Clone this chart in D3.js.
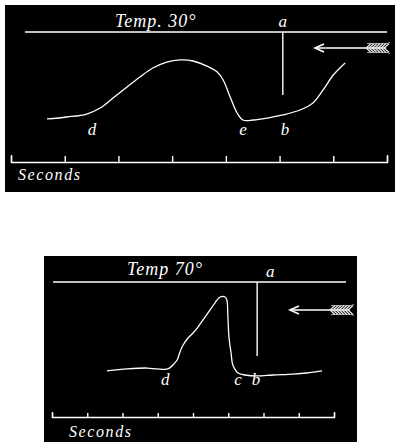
<!DOCTYPE html>
<html>
<head>
<meta charset="utf-8">
<script src="https://cdnjs.cloudflare.com/ajax/libs/d3/7.8.5/d3.min.js"></script>
<style>
  html, body { margin: 0; padding: 0; background: #fff; }
  svg { display: block; }
  text { font-family: "Liberation Serif", "DejaVu Serif", serif; font-style: italic; fill: #fff; }
</style>
</head>
<body>
<svg id="chart" width="400" height="448"></svg>
<script>
// ---------- Panel 1 : Temp. 30° ----------
const title1 = "Temp. 30°";
const seconds1 = [0.67, 1.04, 1.41, 1.66, 1.90, 2.16, 2.40, 2.64, 2.90, 3.15, 3.39, 3.65, 3.84, 3.95, 4.08, 4.21, 4.32, 4.51, 4.77, 5.06, 5.38, 5.62, 5.81, 6.00, 6.22];
const values1  = [3.31, 3.46, 3.69, 4.15, 4.92, 5.77, 6.54, 7.23, 7.69, 7.85, 7.77, 7.38, 6.92, 6.31, 5.00, 3.77, 3.23, 3.23, 3.38, 3.62, 4.00, 4.54, 5.54, 6.69, 7.62];
const ticks1 = [0, 1, 2, 3, 4, 5, 6, 7];
const pointLabels1 = ["d", "e", "b"];
const pointLabelSeconds1 = [1.51, 4.32, 5.10];
const markerA1 = { t: 5.06, bottom: 5.15 };      // vertical stimulus line "a"
const baseline1 = { from: 0.26, to: 7.0 };       // upper horizontal line
const arrow1 = { tip: 5.66, tail: 7.02, level: 8.77 };

// ---------- Panel 2 : Temp 70° ----------
const title2 = "Temp 70°";
const seconds2 = [1.56, 2.13, 2.70, 2.98, 3.29, 3.43, 3.55, 3.63, 3.72, 3.86, 4.00, 4.14, 4.28, 4.48, 4.62, 4.77, 4.91, 4.96, 4.99, 5.02, 5.08, 5.13, 5.28, 5.48, 5.82, 6.27, 6.84, 7.23, 7.66];
const values2  = [3.36, 3.51, 3.58, 3.51, 3.51, 3.81, 4.18, 4.78, 5.30, 5.82, 6.19, 6.64, 7.16, 7.91, 8.43, 8.88, 8.88, 8.66, 7.39, 5.90, 4.70, 3.81, 3.21, 3.06, 2.99, 3.06, 3.13, 3.21, 3.36];
const ticks2 = [0, 1, 2, 3, 4, 5, 6, 7, 8];
const pointLabels2 = ["d", "c", "b"];
const pointLabelSeconds2 = [3.21, 5.28, 5.79];
const markerA2 = { t: 5.82, bottom: 4.48 };
const baseline2 = { from: 0.03, to: 8.34 };
const arrow2 = { tip: 6.75, tail: 8.51, level: 7.91 };

const axisTitle = "Seconds";

const svg = d3.select("#chart");

function drawPanel(cfg) {
  const g = svg.append("g");
  g.append("rect")
    .attr("x", cfg.box[0]).attr("y", cfg.box[1])
    .attr("width", cfg.box[2]).attr("height", cfg.box[3])
    .attr("fill", "#000");

  const x = d3.scaleLinear().domain(cfg.xDomain).range(cfg.xRange);
  const y = d3.scaleLinear().domain([0, 10]).range(cfg.yRange);

  // upper horizontal line
  g.append("line")
    .attr("x1", x(cfg.baseline.from)).attr("x2", x(cfg.baseline.to))
    .attr("y1", y(10)).attr("y2", y(10))
    .attr("stroke", "#fff").attr("stroke-width", 1.6);

  // title
  g.append("text")
    .attr("x", cfg.titleX).attr("y", y(10) - cfg.titleGap)
    .attr("font-size", 18).attr("letter-spacing", 1)
    .text(cfg.title);

  // vertical line a
  g.append("line")
    .attr("x1", x(cfg.markerA.t)).attr("x2", x(cfg.markerA.t))
    .attr("y1", y(10)).attr("y2", y(cfg.markerA.bottom))
    .attr("stroke", "#fff").attr("stroke-width", 1.4);
  g.append("text")
    .attr("x", x(cfg.markerA.t) + cfg.aDx).attr("y", y(10) - cfg.aGap)
    .attr("font-size", 17).attr("text-anchor", "middle")
    .text("a");

  // arrow
  const ay = y(cfg.arrow.level);
  const tipX = x(cfg.arrow.tip), tailX = x(cfg.arrow.tail);
  g.append("line").attr("x1", tipX + 1).attr("x2", tailX - 2)
    .attr("y1", ay).attr("y2", ay).attr("stroke", "#fff").attr("stroke-width", 1.5);
  g.append("path")
    .attr("d", `M${tipX + 9},${ay - 4} L${tipX},${ay} L${tipX + 9},${ay + 4}`)
    .attr("fill", "none").attr("stroke", "#fff").attr("stroke-width", 1.6);
  const fl = d3.range(tailX - 22, tailX - 1, 3);
  g.append("path")
    .attr("d", fl.map(fx => `M${fx + 5},${ay - 4.5} L${fx},${ay} L${fx + 5},${ay + 4.5}`).join(" "))
    .attr("fill", "none").attr("stroke", "#eee").attr("stroke-width", 1.2);
  g.append("path")
    .attr("d", `M${tailX - 21},${ay - 4.5} L${tailX - 1},${ay - 4.5} L${tailX + 2},${ay - 5.5} M${tailX - 21},${ay + 4.5} L${tailX - 1},${ay + 4.5} L${tailX + 2},${ay + 5.5}`)
    .attr("fill", "none").attr("stroke", "#ccc").attr("stroke-width", 0.8);

  // curve
  const pts = cfg.seconds.map((s, i) => [s, cfg.values[i]]);
  g.append("path")
    .datum(pts)
    .attr("d", d3.line().x(d => x(d[0])).y(d => y(d[1])).curve(d3.curveCatmullRom.alpha(0.5)))
    .attr("fill", "none").attr("stroke", "#fff").attr("stroke-width", 1.3);

  // point labels
  cfg.labels.forEach((lab, i) => {
    g.append("text")
      .attr("x", x(cfg.labelSeconds[i])).attr("y", cfg.labelY)
      .attr("font-size", 17).attr("text-anchor", "middle")
      .text(lab);
  });

  // seconds axis
  const axis = d3.axisTop(x).tickValues(cfg.ticks).tickFormat("")
    .tickSize(cfg.tickSize).tickSizeOuter(cfg.tickSize + 1);
  const ag = g.append("g").attr("transform", `translate(0,${cfg.axisY})`).call(axis);
  ag.selectAll("path, line").attr("stroke", "#fff").attr("stroke-width", 1.4);

  g.append("text")
    .attr("x", cfg.secX).attr("y", cfg.secY)
    .attr("font-size", 16).attr("letter-spacing", 1.6)
    .text(axisTitle);
}

drawPanel({
  box: [5, 5, 390, 187],
  xDomain: [0, 7], xRange: [11, 387], yRange: [162, 32],
  baseline: baseline1, title: title1, titleX: 115, titleGap: 5,
  markerA: markerA1, aDx: 0, aGap: 5,
  arrow: arrow1,
  seconds: seconds1, values: values1,
  labels: pointLabels1, labelSeconds: pointLabelSeconds1, labelY: 135,
  ticks: ticks1, tickSize: 6, axisY: 162,
  secX: 18, secY: 180
});

drawPanel({
  box: [44, 256, 313, 186],
  xDomain: [0, 8], xRange: [52, 334], yRange: [416, 282],
  baseline: baseline2, title: title2, titleX: 127, titleGap: 7,
  markerA: markerA2, aDx: 13, aGap: 5,
  arrow: arrow2,
  seconds: seconds2, values: values2,
  labels: pointLabels2, labelSeconds: pointLabelSeconds2, labelY: 385,
  ticks: ticks2, tickSize: 4, axisY: 417,
  secX: 69, secY: 437
});
</script>
</body>
</html>
